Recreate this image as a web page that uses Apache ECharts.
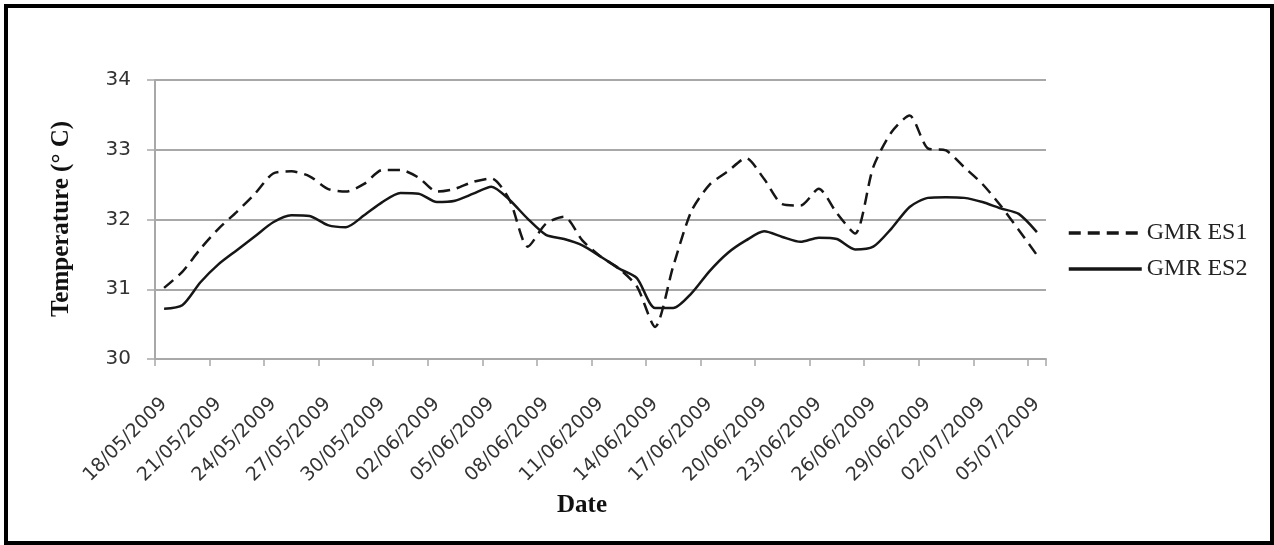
<!DOCTYPE html>
<html>
<head>
<meta charset="utf-8">
<script src="https://cdn.jsdelivr.net/npm/echarts@6/dist/echarts.min.js"></script>
<style>
html,body{margin:0;padding:0;background:#fff;}
#chart{width:1274px;height:545px;}
</style>
</head>
<body>
<div id="chart"></div>
<script>
var categories = [
  '18/05/2009','19/05/2009','20/05/2009','21/05/2009','22/05/2009','23/05/2009','24/05/2009',
  '25/05/2009','26/05/2009','27/05/2009','28/05/2009','29/05/2009','30/05/2009','31/05/2009',
  '01/06/2009','02/06/2009','03/06/2009','04/06/2009','05/06/2009','06/06/2009','07/06/2009',
  '08/06/2009','09/06/2009','10/06/2009','11/06/2009','12/06/2009','13/06/2009','14/06/2009',
  '15/06/2009','16/06/2009','17/06/2009','18/06/2009','19/06/2009','20/06/2009','21/06/2009',
  '22/06/2009','23/06/2009','24/06/2009','25/06/2009','26/06/2009','27/06/2009','28/06/2009',
  '29/06/2009','30/06/2009','01/07/2009','02/07/2009','03/07/2009','04/07/2009','05/07/2009'
];
var gmrES1 = [
  31.02,31.25,31.58,31.87,32.11,32.37,32.66,32.69,32.62,32.44,32.40,32.51,32.71,32.71,
  32.60,32.40,32.44,32.54,32.59,32.28,31.61,31.94,32.04,31.70,31.47,31.30,31.04,30.46,
  31.33,32.12,32.50,32.69,32.88,32.58,32.22,32.20,32.44,32.09,31.80,32.75,33.25,33.49,
  33.02,32.99,32.75,32.51,32.20,31.85,31.49
];
var gmrES2 = [
  30.72,30.77,31.10,31.36,31.56,31.76,31.96,32.06,32.05,31.92,31.89,32.06,32.25,32.38,
  32.37,32.25,32.27,32.37,32.47,32.28,32.01,31.78,31.72,31.63,31.47,31.30,31.16,30.73,
  30.73,30.94,31.26,31.52,31.70,31.83,31.75,31.68,31.74,31.72,31.57,31.61,31.87,32.18,
  32.31,32.32,32.31,32.25,32.16,32.08,31.82
];
var seriesNames = ['GMR ES1','GMR ES2'];
var yTitle = 'Temperature (° C)';
var xTitle = 'Date';

var chart = echarts.init(document.getElementById('chart'));
var gray = '#a8a8a8';
var lineColor = '#161616';
chart.setOption({
  backgroundColor: '#ffffff',
  animation: false,
  grid: {left: 155, top: 80, width: 891, height: 279},
  legend: {
    orient: 'vertical',
    left: 1067,
    top: 221,
    padding: 0,
    itemWidth: 73,
    itemHeight: 14,
    itemGap: 12,
    data: seriesNames,
    itemStyle: {opacity: 0},
    lineStyle: {width: 3.5},
    textStyle: {fontFamily: 'Liberation Serif', fontSize: 24, color: '#222', lineHeight: 24}
  },
  xAxis: {
    type: 'category',
    data: categories,
    boundaryGap: true,
    axisLine: {show: true, lineStyle: {color: gray, width: 2}},
    axisTick: {show: true, interval: 2, length: 7, lineStyle: {color: gray, width: 1.5}},
    axisLabel: {
      interval: 2, rotate: 45, margin: 42,
      fontFamily: 'DejaVu Sans', fontSize: 19, color: '#333'
    },
    splitLine: {show: false}
  },
  yAxis: {
    type: 'value',
    min: 30, max: 34, interval: 1,
    axisLine: {show: true, lineStyle: {color: gray, width: 2}},
    axisTick: {show: true, length: 8, lineStyle: {color: gray, width: 1.5}},
    axisLabel: {margin: 24, fontFamily: 'DejaVu Sans', fontSize: 20, color: '#333'},
    splitLine: {show: true, lineStyle: {color: gray, width: 2}}
  },
  graphic: [
    {
      type: 'rect',
      shape: {x: 6, y: 6, width: 1266, height: 537},
      style: {fill: 'none', stroke: '#000', lineWidth: 4},
      silent: true
    },
    {
      type: 'text',
      x: 62, y: 219, rotation: Math.PI / 2,
      style: {
        text: yTitle, fontFamily: 'Liberation Serif', fontWeight: 'bold', fontSize: 25,
        fill: '#111', align: 'center', verticalAlign: 'middle'
      }
    },
    {
      type: 'text',
      x: 582, y: 506,
      style: {
        text: xTitle, fontFamily: 'Liberation Serif', fontWeight: 'bold', fontSize: 25,
        fill: '#111', align: 'center', verticalAlign: 'middle'
      }
    }
  ],
  series: [
    {
      name: seriesNames[0], type: 'line', data: gmrES1,
      symbol: 'none', smooth: 0.25,
      lineStyle: {color: lineColor, width: 2.5, type: [12, 7]},
      itemStyle: {color: lineColor}
    },
    {
      name: seriesNames[1], type: 'line', data: gmrES2,
      symbol: 'none', smooth: 0.25,
      lineStyle: {color: lineColor, width: 2.5, type: 'solid'},
      itemStyle: {color: lineColor}
    }
  ]
});
</script>
</body>
</html>
